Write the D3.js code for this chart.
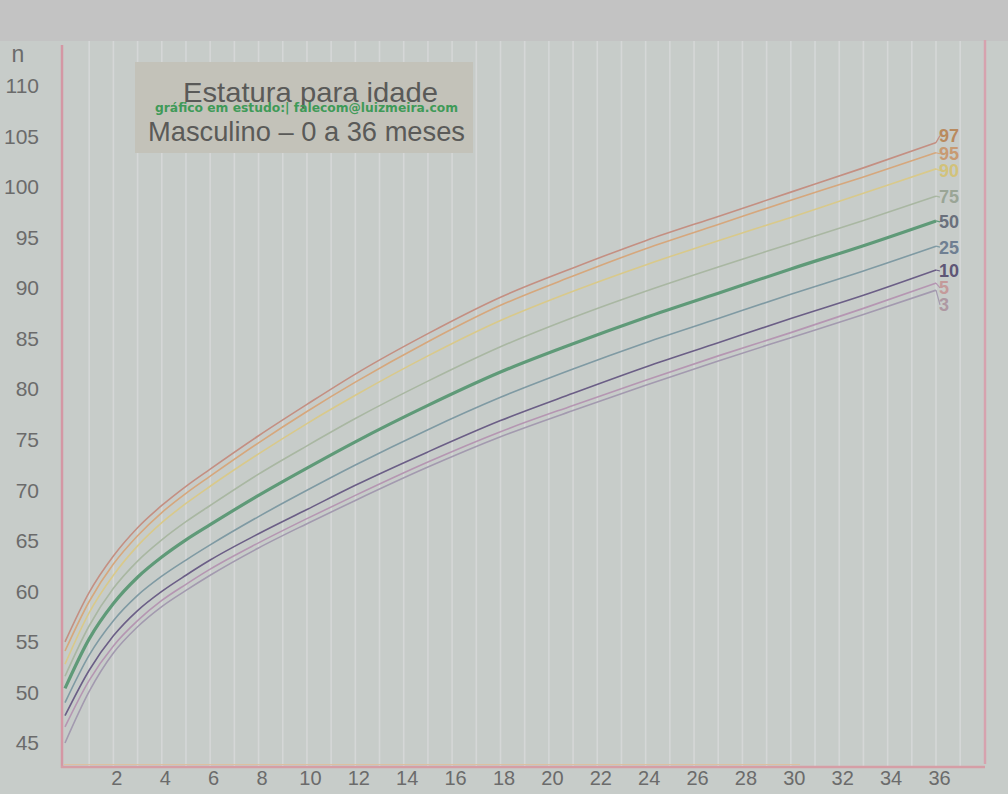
<!DOCTYPE html>
<html><head><meta charset="utf-8">
<script src="https://cdn.jsdelivr.net/npm/d3@7"></script>
<style>
html,body{margin:0;padding:0;background:#c7ccc9;}
svg{display:block;}
</style></head>
<body>
<svg id="chart" width="1008" height="794"></svg>
<script>
// ---- data ----
const ages = [0, 1, 2, 3, 4, 5, 6, 8, 10, 12, 15, 18, 21, 24, 27, 30, 33, 36];
const percentiles = ["97", "95", "90", "75", "50", "25", "10", "5", "3"];
const p97 = [55.0, 59.9, 63.5, 66.3, 68.5, 70.4, 72.1, 75.4, 78.5, 81.5, 85.5, 89.1, 92.0, 94.7, 97.1, 99.5, 101.9, 104.4];
const p95 = [54.1, 59.0, 62.7, 65.5, 67.8, 69.7, 71.4, 74.7, 77.8, 80.7, 84.7, 88.3, 91.2, 93.9, 96.3, 98.7, 101.0, 103.4];
const p90 = [52.8, 57.9, 61.6, 64.5, 66.8, 68.7, 70.4, 73.6, 76.6, 79.4, 83.3, 86.8, 89.7, 92.3, 94.7, 97.0, 99.4, 101.8];
const p75 = [51.6, 56.6, 60.3, 63.0, 65.1, 66.9, 68.5, 71.6, 74.4, 77.1, 80.8, 84.2, 87.1, 89.7, 92.1, 94.4, 96.7, 99.1];
const p50 = [50.4, 55.3, 58.8, 61.4, 63.4, 65.1, 66.6, 69.5, 72.2, 74.8, 78.4, 81.7, 84.5, 87.1, 89.5, 91.9, 94.2, 96.65];
const p25 = [49.0, 53.7, 57.1, 59.6, 61.5, 63.1, 64.6, 67.4, 70.0, 72.5, 76.0, 79.2, 82.0, 84.6, 87.0, 89.4, 91.7, 94.15];
const p10 = [47.7, 52.2, 55.6, 58.1, 60.0, 61.6, 63.1, 65.7, 68.1, 70.5, 73.8, 76.9, 79.6, 82.2, 84.6, 87.0, 89.3, 91.8];
const p5  = [46.6, 51.2, 54.6, 57.1, 59.1, 60.7, 62.2, 64.8, 67.2, 69.5, 72.8, 75.8, 78.4, 80.9, 83.3, 85.6, 88.0, 90.5];
const p3  = [45.0, 50.1, 53.9, 56.5, 58.5, 60.1, 61.6, 64.3, 66.7, 69.0, 72.3, 75.3, 77.9, 80.4, 82.8, 85.1, 87.4, 89.8];
const yTicks = [45, 50, 55, 60, 65, 70, 75, 80, 85, 90, 95, 100, 105, 110];
const xTicks = [2, 4, 6, 8, 10, 12, 14, 16, 18, 20, 22, 24, 26, 28, 30, 32, 34, 36];
const titleLine1 = "Estatura para idade";
const titleLine2 = "Masculino – 0 a 36 meses";
const watermark = "gráfico em estudo:| falecom@luizmeira.com";
const yLabel = "n";

const seriesValues = [p97, p95, p90, p75, p50, p25, p10, p5, p3];
const lineColors = ["#c48f82", "#d6a77c", "#d9c98a", "#a9b7a2", "#5f9a78", "#7f9aa3", "#6b5e86", "#b596b2", "#a39aaf"];
const labelColors = ["#b98a5e", "#c89a72", "#d2c27a", "#9aa596", "#6a707c", "#6f7f92", "#5e5676", "#c49a9a", "#ae98a2"];

// ---- scales ----
const svg = d3.select("#chart");
const x = d3.scaleLinear().domain([0, 36]).range([65, 936]);
const y = d3.scaleLinear().domain([45, 110]).range([743, 86]);

// background
svg.append("rect").attr("x",0).attr("y",0).attr("width",1008).attr("height",794).attr("fill","#c7ccc9");
svg.append("rect").attr("x",0).attr("y",0).attr("width",1008).attr("height",41).attr("fill","#c3c3c3");

// vertical grid: one per month
const months = d3.range(1, 38);
svg.append("g").selectAll("line").data(months).join("line")
  .attr("x1", d => x(d)).attr("x2", d => x(d))
  .attr("y1", 41).attr("y2", 766)
  .attr("stroke", "#d5d7d7").attr("stroke-width", 1.6);

// frame lines
svg.append("line").attr("x1",62).attr("x2",62).attr("y1",45).attr("y2",768)
  .attr("stroke","#d497a4").attr("stroke-width",2.5);
svg.append("line").attr("x1",985).attr("x2",985).attr("y1",40).attr("y2",764)
  .attr("stroke","#d6a2ae").attr("stroke-width",2.5);
svg.append("line").attr("x1",61).attr("x2",985).attr("y1",767).attr("y2",767)
  .attr("stroke","#d59ea6").attr("stroke-width",2.5);
svg.append("line").attr("x1",64).attr("x2",800).attr("y1",764.5).attr("y2",764.5)
  .attr("stroke","#dcc0a0").attr("stroke-width",1);

// y axis
const yAxis = d3.axisLeft(y).tickValues(yTicks).tickSize(0).tickPadding(0);
const gy = svg.append("g").attr("transform","translate(39,0)").call(yAxis);
gy.select(".domain").remove();
gy.selectAll("text").attr("font-family","Liberation Sans, Arial, sans-serif")
  .attr("font-size",21).attr("fill","#6b6b6b").attr("text-anchor","end");

// x axis
const xAxis = d3.axisBottom(x).tickValues(xTicks).tickSize(0).tickPadding(0);
const gx = svg.append("g").attr("transform","translate(3,771)").call(xAxis);
gx.select(".domain").remove();
gx.selectAll("text").attr("font-family","Liberation Sans, Arial, sans-serif")
  .attr("font-size",20).attr("fill","#6b6b6b");

svg.append("text").attr("x",18).attr("y",62).attr("text-anchor","middle")
  .attr("font-family","Liberation Sans, Arial, sans-serif").attr("font-size",23)
  .attr("fill","#6b6b6b").text(yLabel);

// curves
const line = d3.line().x((d,i) => x(ages[i])).y(d => y(d)).curve(d3.curveMonotoneX);
svg.append("g").selectAll("path").data(seriesValues).join("path")
  .attr("d", d => line(d))
  .attr("fill","none")
  .attr("stroke",(d,i) => lineColors[i])
  .attr("stroke-width",(d,i) => percentiles[i] === "50" ? 3.2 : 1.6);

// end labels (with simple collision spacing)
let labelY = seriesValues.map((s, i) => y(s[s.length-1]) + (i === 0 ? -7 : 1));
for (let i = 1; i < labelY.length; i++) {
  if (labelY[i] - labelY[i-1] < 17) labelY[i] = labelY[i-1] + 17;
}
const lg = svg.append("g");
seriesValues.forEach((s, i) => {
  const ex = x(36), ey = y(s[s.length-1]);
  lg.append("line").attr("x1", ex).attr("y1", ey).attr("x2", ex + 4).attr("y2", labelY[i])
    .attr("stroke", lineColors[i]).attr("stroke-width", 1.2);
  lg.append("text").attr("x", ex + 3).attr("y", labelY[i]).attr("dy","0.35em")
    .attr("font-family","Liberation Sans, Arial, sans-serif").attr("font-weight","bold")
    .attr("font-size",18).attr("fill", labelColors[i]).text(percentiles[i]);
});

// title box
svg.append("rect").attr("x",135).attr("y",62).attr("width",338).attr("height",91).attr("fill","#c3c2b9");
svg.append("text").attr("x",183).attr("y",102)
  .attr("font-family","Liberation Sans, Arial, sans-serif").attr("font-size",28)
  .attr("textLength",255).attr("lengthAdjust","spacingAndGlyphs")
  .attr("fill","#5a5a58").text(titleLine1);
svg.append("text").attr("x",155).attr("y",112)
  .attr("font-family","DejaVu Sans, sans-serif").attr("font-weight","bold").attr("font-size",11.5)
  .attr("textLength",303).attr("lengthAdjust","spacingAndGlyphs")
  .attr("fill","#3f9a58").text(watermark);
svg.append("text").attr("x",148).attr("y",141)
  .attr("font-family","Liberation Sans, Arial, sans-serif").attr("font-size",28)
  .attr("textLength",317).attr("lengthAdjust","spacingAndGlyphs")
  .attr("fill","#5a5a58").text(titleLine2);
</script>
</body></html>
